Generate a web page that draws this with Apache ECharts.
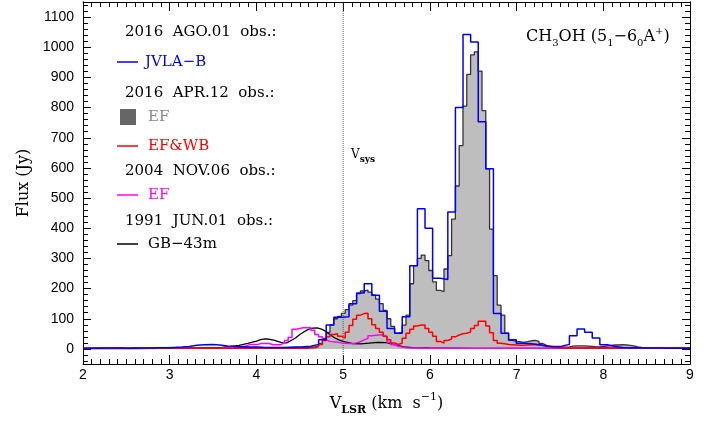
<!DOCTYPE html>
<html>
<head>
<meta charset="utf-8">
<script src="https://cdn.jsdelivr.net/npm/echarts@6/dist/echarts.min.js"></script>
<style>
html, body { margin: 0; padding: 0; background: #fff; }
#chart { width: 716px; height: 421px; }
</style>
</head>
<body>
<div id="chart"></div>
<script>
// channel grids in km/s (left edge of first channel + channel width)
var fineStart = 2.0, fineWidth = 0.04382;
var coarseStart = 2.0, coarseWidth = 0.08765;
var vsys = 5.0;

// 2016 AGO.01 JVLA-B (coarse channels)
var jvlaFlux = [2,2,3,3,3,2,3,3,3,4,
  4,5,6,8,12,14,15,13,10,8,
  7,6,6,5,5,5,5,6,7,9,
  15,30,79,105,107,150,185,216,178,125,
  68,52,107,276,465,400,234,230,454,800,
  1042,1017,753,597,117,52,30,19,17,14,
  10,8,9,15,44,66,55,36,14,8,
  5,4,4,3,3,3,2,2,2,2];

// 2016 APR.12 EF (grey, fine channels)
var efFlux = [2,2,2,3,3,2,2,2,3,3,
  2,2,3,3,2,2,2,3,3,3,
  3,3,3,3,3,3,3,3,3,3,
  3,3,3,4,4,4,4,4,4,4,
  4,4,4,4,4,4,4,4,4,4,
  4,4,4,5,5,5,5,5,5,6,
  7,10,18,35,55,80,100,108,118,130,
  145,160,183,192,195,188,178,165,150,128,
  100,75,52,55,79,112,216,276,300,311,
  293,260,222,194,190,265,309,430,540,674,
  805,910,975,985,921,790,597,397,243,145,
  112,52,28,25,24,22,24,27,28,25,
  18,12,8,6,5,5,6,7,9,10,
  10,10,9,8,7,7,8,10,12,13,
  13,14,13,12,10,7,5,4,3,3,
  3,3,3,3,3,3,3,3,3,3];

// 2016 APR.12 EF&WB (red, fine channels)
var efwbFlux = [2,2,2,2,2,2,2,2,2,2,
  2,2,2,2,2,2,2,2,2,2,
  2,2,2,2,2,2,2,2,2,2,
  2,2,2,2,2,2,2,2,2,2,
  2,2,2,2,2,2,2,2,2,2,
  2,2,2,2,2,2,2,2,2,3,
  4,8,15,28,40,48,50,42,36,55,
  78,98,112,117,118,100,80,68,55,42,
  30,20,15,19,35,52,65,76,79,79,
  68,55,42,25,19,28,33,40,46,50,
  52,56,68,78,92,92,76,54,28,19,
  17,15,14,13,12,12,13,14,15,14,
  12,9,6,4,3,2,2,2,2,2,
  2,2,2,2,2,2,2,2,2,2,
  2,2,2,2,2,2,2,2,2,2,
  2,2,2,2,2,2,2,2,2,2];

// 2004 NOV.06 EF (magenta, fine channels)
var ef2004Flux = [1,2,2,2,2,2,2,2,2,2,
  2,2,2,2,2,2,2,2,2,2,
  2,2,2,2,2,2,2,2,2,2,
  2,2,2,2,2,2,4,4,5,6,
  7,8,10,15,15,15,18,18,18,14,
  14,14,20,28,38,65,68,70,70,70,
  62,48,40,30,25,24,22,20,19,18,
  18,20,24,30,35,44,45,46,46,40,
  22,14,9,6,4,3,3,3,3,2,
  2,2,2,2,2,2,2,2,2,2,
  2,2,2,2,2,2,2,2,2,2,
  2,2,2,2,2,2,2,2,2,2,
  2,2,2,2,2,2,2,2,2,2,
  2,2,2,2,2,2,2,2,2,2,
  2,2,2,2,2,2,2,2,2,2,
  2,2,2,2,2,2,2,2,2,2];

// 1991 JUN.01 GB-43m
var gbVel = [2.0,2.3,2.6,2.9,3.2,3.4,3.6,3.7,3.8,3.9,4.0,4.05,4.1,4.15,4.2,4.3,4.35,4.4,4.45,4.5,
  4.55,4.6,4.65,4.7,4.75,4.8,4.85,4.9,4.95,5.0,5.1,5.2,5.3,5.4,5.5,5.6,5.7,5.8,6.0,6.5,
  7.0,7.5,8.0,8.5,9.0];
var gbFlux = [1,2,1,2,2,3,5,8,12,18,26,31,33,32,29,20,20,28,36,48,
  57,65,69,70,66,58,47,37,30,25,18,17,19,22,21,13,7,4,3,2,
  2,2,3,2,2];

var yTicks = [0,100,200,300,400,500,600,700,800,900,1000,1100];
var yMinor = [];
for (var t = -40; t <= 1140; t += 20) { if (t % 100 !== 0) yMinor.push(t); }

// histogram outline: left edge of every channel, closed at the last right edge (kept inside the axis)
function steps(start, width, flux) {
  var d = [];
  for (var i = 0; i < flux.length; i++) d.push([start + i * width, flux[i]]);
  d.push([Math.min(start + flux.length * width, 9), flux[flux.length - 1]]);
  return d;
}

var serif = '"DejaVu Serif", serif';

function xAx(pos, labels) {
  var ax = {
    type: 'value', position: pos, min: 2, max: 9, interval: 1,
    axisLine: { show: true, onZero: false, lineStyle: { color: '#000', width: 1 } },
    axisTick: { show: true, inside: true, length: 9, lineStyle: { color: '#000', width: 1 } },
    minorTick: { show: true, splitNumber: 10, length: 5, lineStyle: { color: '#000', width: 1 } },
    axisLabel: labels ? { show: true, margin: 4, color: '#000', fontSize: 14 } : { show: false },
    splitLine: { show: false }
  };
  if (labels) {
    ax.name = '{m|V}{s|LSR}{m| (km  s}{p|\u22121}{m|)}';
    ax.nameLocation = 'middle';
    ax.nameGap = 28;
    ax.nameTextStyle = {
      rich: {
        m: { fontSize: 16, fontFamily: serif, fontWeight: 'normal', color: '#000', lineHeight: 24, verticalAlign: 'middle' },
        s: { fontSize: 11, fontWeight: 'bold', fontFamily: serif, color: '#000', lineHeight: 13, verticalAlign: 'bottom' },
        p: { fontSize: 11, fontFamily: serif, fontWeight: 'normal', color: '#000', lineHeight: 13, verticalAlign: 'top' }
      }
    };
  }
  return ax;
}
function yAx(pos, ticks, len, labels) {
  var ax = {
    type: 'value', position: pos, min: -50, max: 1150,
    axisLine: { show: true, onZero: false, lineStyle: { color: '#000', width: 1 } },
    axisTick: { show: true, inside: true, length: len, customValues: ticks, lineStyle: { color: '#000', width: 1 } },
    axisLabel: labels ? {
      show: true, customValues: yTicks, margin: 9, color: '#000', fontSize: 14,
      formatter: function (v) { return String(v); }
    } : { show: false },
    splitLine: { show: false }
  };
  if (labels) {
    ax.name = 'Flux (Jy)';
    ax.nameLocation = 'middle';
    ax.nameGap = 50;
    ax.nameTextStyle = { fontSize: 16, fontFamily: serif, color: '#000' };
  }
  return ax;
}

// legend block drawn as text titles
function heading(y, text) {
  return {
    text: text, left: 125, top: y - 9, padding: 0,
    textStyle: { fontSize: 15, fontFamily: serif, fontWeight: 'normal', color: '#000', lineHeight: 18 }
  };
}
function item(y, color, text, gap, textColor) {
  return {
    text: '{l|}{t|' + text + '}', left: 117, top: y - 9, padding: 0,
    textStyle: {
      fontWeight: 'normal',
      rich: {
        l: { width: 21, height: 1.5, backgroundColor: color, verticalAlign: 'middle' },
        t: { fontSize: 15, fontFamily: serif, fontWeight: 'normal', color: textColor || color, lineHeight: 18, padding: [0, 0, 0, gap], verticalAlign: 'middle' }
      }
    }
  };
}

var myChart = echarts.init(document.getElementById('chart'));

option = {
  animation: false,
  grid: { left: 83, right: 26, top: 2, bottom: 55 },
  title: [
    heading(32, '2016  AGO.01  obs.:'),
    item(62, '#0000ff', 'JVLA\u2212B', 7),
    heading(93, '2016  APR.12  obs.:'),
    {
      text: '{b|}{t|EF}', left: 120, top: 108, padding: 0,
      textStyle: {
        fontWeight: 'normal',
        rich: {
          b: { width: 16, height: 16, backgroundColor: '#666', verticalAlign: 'middle' },
          t: { fontSize: 15, fontFamily: serif, fontWeight: 'normal', color: '#888', lineHeight: 18, padding: [0, 0, 0, 12], verticalAlign: 'middle' }
        }
      }
    },
    item(146, '#ff0000', 'EF&WB', 10),
    heading(171, '2004  NOV.06  obs.:'),
    item(195, '#ff00ff', 'EF', 10),
    heading(221, '1991  JUN.01  obs.:'),
    item(244, '#000000', 'GB\u221243m', 10),
    {
      text: '{m|CH}{s|3}{m|OH (5}{s|1}{m|\u22126}{s|0}{m|A}{p|+}{m|)}',
      left: 526, top: 26, padding: 0,
      textStyle: {
        fontWeight: 'normal',
        rich: {
          m: { fontSize: 16, fontFamily: serif, fontWeight: 'normal', color: '#000', lineHeight: 22, verticalAlign: 'middle' },
          s: { fontSize: 10, fontFamily: serif, fontWeight: 'normal', color: '#000', lineHeight: 12, verticalAlign: 'bottom' },
          p: { fontSize: 10, fontFamily: serif, fontWeight: 'normal', color: '#000', lineHeight: 12, verticalAlign: 'top' }
        }
      }
    },
    {
      text: '{m|V}{s|sys}', left: 351, top: 146, padding: 0,
      textStyle: {
        fontWeight: 'normal',
        rich: {
          m: { fontSize: 12, fontFamily: serif, fontWeight: 'normal', color: '#000', lineHeight: 18, verticalAlign: 'middle' },
          s: { fontSize: 9, fontWeight: 'bold', fontFamily: serif, color: '#000', lineHeight: 10, verticalAlign: 'bottom' }
        }
      }
    }
  ],
  xAxis: [xAx('bottom', true), xAx('top', false)],
  yAxis: [
    yAx('left', yTicks, 8, true),
    yAx('left', yMinor, 5, false),
    yAx('right', yTicks, 8, false),
    yAx('right', yMinor, 5, false)
  ],
  series: [
    {
      name: 'EF 2016', type: 'line', step: 'end', showSymbol: false,
      data: steps(fineStart, fineWidth, efFlux),
      lineStyle: { color: '#333', width: 1.3 },
      areaStyle: { color: '#bebebe', opacity: 1 }
    },
    {
      name: 'Vsys', type: 'line', showSymbol: false, silent: true,
      data: [[vsys, -50], [vsys, 1150]],
      lineStyle: { color: '#555', type: 'dotted', width: 1 }
    },
    {
      name: 'GB-43m', type: 'line', showSymbol: false,
      data: gbVel.map(function (v, i) { return [v, gbFlux[i]]; }),
      lineStyle: { color: '#000', width: 1.3 }
    },
    {
      name: 'EF 2004', type: 'line', step: 'end', showSymbol: false,
      data: steps(fineStart, fineWidth, ef2004Flux),
      lineStyle: { color: '#ff00ff', width: 1.5 }
    },
    {
      name: 'EF&WB', type: 'line', step: 'end', showSymbol: false,
      data: steps(fineStart, fineWidth, efwbFlux),
      lineStyle: { color: '#ff0000', width: 1.5 }
    },
    {
      name: 'JVLA-B', type: 'line', step: 'end', showSymbol: false,
      data: steps(coarseStart, coarseWidth, jvlaFlux),
      lineStyle: { color: '#0000ff', width: 1.5 }
    }
  ]
};

myChart.setOption(option);
</script>
</body>
</html>
